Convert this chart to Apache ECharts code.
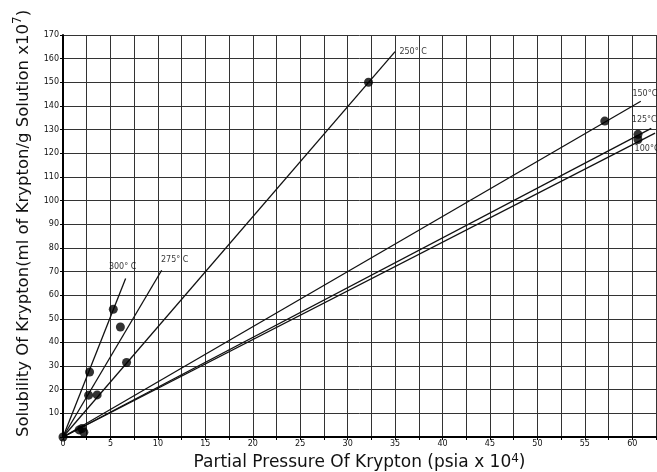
<!DOCTYPE html>
<html><head><meta charset="utf-8">
<script src="https://cdn.jsdelivr.net/npm/echarts@6/dist/echarts.min.js"></script>
<style>html,body{margin:0;padding:0;background:#fff}#c{width:657px;height:472px}</style>
</head><body><div id="c"></div>
<script>
// Temperature lines (drawn from origin to end point)
const lineNames = ['300° C', '275° C', '250° C', '150°C', '125°C', '100°C'];
const lineStartX = [0, 0, 0, 0, 0, 0];
const lineStartY = [0, 0, 0, 0, 0, 0];
const lineEndX = [6.6, 10.4, 35.0, 60.9, 62.0, 62.4];
const lineEndY = [67, 70.5, 163, 142, 130.5, 128.5];
// Measured data points
const pointX = [0, 1.7, 2.2, 2.0, 2.7, 3.6, 2.8, 5.3, 6.05, 6.7, 32.2, 57.1, 60.6, 60.6];
const pointY = [0, 3.0, 2.0, 3.6, 17.7, 17.8, 27.5, 54, 46.5, 31.5, 150, 133.6, 128, 125.8];
// Axis ticks
const xTicks = [0, 5, 10, 15, 20, 25, 30, 35, 40, 45, 50, 55, 60];
const yTicks = [10, 20, 30, 40, 50, 60, 70, 80, 90, 100, 110, 120, 130, 140, 150, 160, 170];

const labelOffsets = [[-3, -12], [13, -10], [18, 0], [4, -7], [-7, -8], [-8, 16]];
const FONT = 'DejaVu Sans';

const chart = echarts.init(document.getElementById('c'), null, {renderer: 'canvas'});
const series = [];
lineNames.forEach((n, i) => {
  series.push({
    name: n, type: 'line', showSymbol: false, symbol: 'none', silent: true,
    lineStyle: {color: '#111', width: 1.3},
    data: [[lineStartX[i], lineStartY[i]], [lineEndX[i], lineEndY[i]]],
    z: 3
  });
});
series.push({
  name: 'labels', type: 'scatter', symbolSize: 1, silent: true,
  itemStyle: {color: 'rgba(0,0,0,0)'},
  data: lineNames.map((n, i) => ({
    value: [lineEndX[i], lineEndY[i]],
    label: {show: true, formatter: n, position: 'inside', offset: labelOffsets[i],
      color: '#000', fontSize: 8, fontFamily: FONT}
  })),
  z: 5
});
series.push({
  name: 'points', type: 'scatter', symbol: 'circle', symbolSize: 9, silent: true,
  itemStyle: {color: '#000'},
  data: pointX.map((x, i) => [x, pointY[i]]),
  z: 4
});

chart.setOption({
  animation: false,
  backgroundColor: '#fff',
  grid: {left: 63, top: 35, right: 1, bottom: 35, containLabel: false, outerBoundsMode: 'none'},
  xAxis: {
    type: 'value', min: 0, max: 62.5, interval: 2.5,
    name: 'Partial Pressure Of Krypton (psia x 10{sup|4})',
    nameLocation: 'middle', nameGap: 13,
    nameTextStyle: {color: '#111', fontSize: 17, fontFamily: FONT, lineHeight: 20,
      rich: {sup: {fontSize: 12, verticalAlign: 'top', lineHeight: 20, padding: [0, 0, 11, 0], color: '#111', fontFamily: FONT}}},
    axisLine: {show: true, lineStyle: {color: '#000', width: 2}},
    axisTick: {show: true, length: 3, lineStyle: {color: '#000'}},
    axisLabel: {color: '#111', fontSize: 8, fontFamily: FONT, margin: 3,
      formatter: v => xTicks.includes(Math.round(v * 10) / 10) ? String(v) : ''},
    splitLine: {show: true, lineStyle: {color: '#333', width: 1}}
  },
  yAxis: {
    type: 'value', min: 0, max: 170, interval: 10,
    name: 'Solubility Of Krypton(ml of Krypton/g Solution x10{sup|7})',
    nameLocation: 'middle', nameGap: 27, nameRotate: 90,
    nameTextStyle: {color: '#111', fontSize: 16.5, fontFamily: FONT, padding: [0, 0, 0, 25],
      rich: {sup: {fontSize: 12, verticalAlign: 'top', padding: [0, 0, 12, 0], color: '#111', fontFamily: FONT}}},
    axisLine: {show: true, lineStyle: {color: '#000', width: 2}},
    axisTick: {show: true, length: 3, lineStyle: {color: '#000'}},
    axisLabel: {color: '#111', fontSize: 8, fontFamily: FONT, margin: 4,
      formatter: v => yTicks.includes(v) ? String(v) : ''},
    splitLine: {show: true, lineStyle: {color: '#333', width: 1}}
  },
  series: series
});
</script>
</body></html>
